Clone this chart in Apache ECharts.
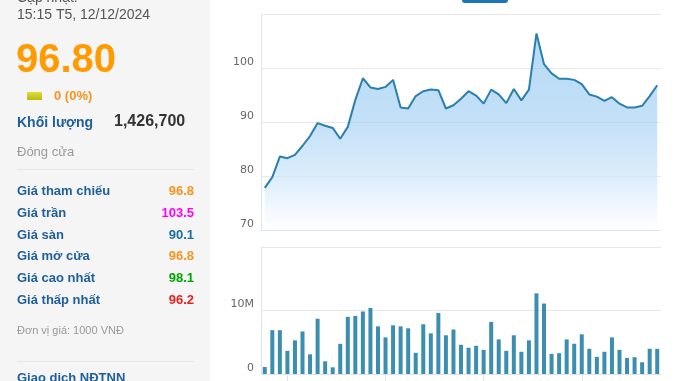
<!DOCTYPE html>
<html>
<head>
<meta charset="utf-8">
<script src="https://cdn.jsdelivr.net/npm/echarts@6/dist/echarts.min.js"></script>
<style>
html,body{margin:0;padding:0;background:#fff;}
#c{width:678px;height:381px;}
</style>
</head>
<body>
<div id="c"></div>
<script>
// ---- data ----
var days = [];
for (var i = 0; i < 53; i++) days.push('D' + (i + 1));
var prices = [77.8, 79.8, 83.6, 83.3, 83.9, 85.6, 87.4, 89.8, 89.3, 88.9,
  86.9, 89.1, 94.1, 98.1, 96.4, 96.1, 96.5, 97.8, 92.7, 92.5,
  94.8, 95.7, 96.0, 95.9, 92.5, 93.1, 94.3, 95.7, 94.9, 93.4,
  96.0, 95.1, 93.5, 96.1, 94.0, 96.0, 106.4, 100.7, 99.0, 98.0,
  98.0, 97.8, 97.0, 95.1, 94.7, 93.9, 94.6, 93.4, 92.7, 92.7,
  93.0, 94.8, 96.8];
var volumesM = [1.1, 6.9, 6.9, 3.65, 5.3, 6.7, 3.1, 8.7, 2.0, 1.05,
  4.75, 9.0, 9.15, 9.85, 10.4, 7.5, 5.77, 7.67, 7.5, 7.2,
  3.33, 7.83, 6.4, 9.6, 6.1, 7.0, 4.6, 4.13, 4.44, 3.8,
  8.2, 5.45, 3.65, 6.1, 3.5, 5.3, 12.7, 11.1, 3.17, 3.28,
  5.45, 4.76, 6.25, 3.97, 2.7, 3.5, 5.77, 3.8, 2.54, 2.65,
  1.85, 3.97, 3.97];
var priceTicks = [70, 110, 10];
var volTicks = [0, 20, 10];
var infoRows = [
  ['Giá tham chiếu', '96.8', '#f7941d'],
  ['Giá trần', '103.5', '#ff00ff'],
  ['Giá sàn', '90.1', '#1b6fa3'],
  ['Giá mở cửa', '96.8', '#f7941d'],
  ['Giá cao nhất', '98.1', '#00a500'],
  ['Giá thấp nhất', '96.2', '#ee1c1c']
];

var F = '"Liberation Sans", Arial, sans-serif';
var BLUE = '#1d5e9b';
function txt(t, x, y, font, fill, align) {
  return { type: 'text', silent: true, z: 10,
    style: { text: t, x: x, y: y, font: font, fill: fill,
      align: align || 'left', textAlign: align || 'left',
      verticalAlign: 'middle', textVerticalAlign: 'middle' } };
}
var els = [
  { type: 'rect', z: 1, silent: true, shape: { x: 0, y: 0, width: 210, height: 381 }, style: { fill: '#f5f5f6' } },
  txt('Cập nhật:', 17, -2, '14px ' + F, '#555'),
  txt('15:15 T5, 12/12/2024', 17, 15, '14px ' + F, '#555'),
  txt('96.80', 16, 61, 'bold 40px ' + F, '#ff9a00'),
  { type: 'rect', z: 10, silent: true, shape: { x: 27, y: 92, width: 15, height: 8 },
    style: { fill: { type: 'linear', x: 0, y: 0, x2: 0, y2: 1, colorStops: [{ offset: 0, color: '#dede3a' }, { offset: 1, color: '#b9b90f' }] } } },
  txt('0 (0%)', 54, 96, 'bold 13px ' + F, '#f7941d'),
  txt('Khối lượng', 17, 123, 'bold 14px ' + F, BLUE),
  txt('1,426,700', 114, 122, 'bold 16px ' + F, '#333'),
  txt('Đóng cửa', 17, 152, '13px ' + F, '#999'),
  { type: 'rect', z: 10, silent: true, shape: { x: 17, y: 169, width: 177, height: 1 }, style: { fill: '#e6e6e6' } },
  txt('Đơn vị giá: 1000 VNĐ', 17, 331, '11px ' + F, '#999'),
  { type: 'rect', z: 10, silent: true, shape: { x: 17, y: 361, width: 177, height: 1 }, style: { fill: '#e6e6e6' } },
  txt('Giao dịch NĐTNN', 17, 378, 'bold 13px ' + F, BLUE),
  { type: 'rect', z: 10, silent: true, shape: { x: 462, y: -6, width: 46, height: 9, r: 3 }, style: { fill: '#1c76b5' } }
];
infoRows.forEach(function (r, i) {
  var y = 191.5 + i * 21.8;
  els.push(txt(r[0], 17, y, 'bold 13px ' + F, BLUE));
  els.push(txt(r[1], 194, y, 'bold 13px ' + F, r[2], 'right'));
});

var AX = '#dde4ec', SPL = '#e8e8e8';
var LBL = { color: '#666', fontFamily: 'DejaVu Sans', fontSize: 11, margin: 7, verticalAlign: 'bottom', lineHeight: 12 };
var chart = echarts.init(document.getElementById('c'), null, { renderer: 'canvas' });
chart.setOption({
  animation: false,
  backgroundColor: '#fff',
  graphic: { elements: els },
  grid: [
    { left: 261, right: 17, top: 14, height: 216 },
    { left: 261, right: 17, top: 247, height: 127 }
  ],
  xAxis: [
    { type: 'category', gridIndex: 0, data: days, boundaryGap: true,
      axisLine: { lineStyle: { color: AX } }, axisTick: { show: false }, axisLabel: { show: false } },
    { type: 'category', gridIndex: 1, data: days, boundaryGap: true,
      axisLine: { lineStyle: { color: AX } },
      axisTick: { show: true, alignWithLabel: true, length: 8, lineStyle: { color: AX },
        interval: function (idx) { return idx % 13 === 3; } },
      axisLabel: { show: false } }
  ],
  yAxis: [
    { type: 'value', gridIndex: 0, min: priceTicks[0], max: priceTicks[1], interval: priceTicks[2],
      axisLine: { show: true, lineStyle: { color: AX } }, axisTick: { show: false },
      splitLine: { lineStyle: { color: SPL } },
      axisLabel: Object.assign({ showMaxLabel: false }, LBL) },
    { type: 'value', gridIndex: 1, min: volTicks[0], max: volTicks[1], interval: volTicks[2],
      axisLine: { show: true, lineStyle: { color: AX } }, axisTick: { show: false },
      splitLine: { lineStyle: { color: SPL } },
      axisLabel: Object.assign({ showMaxLabel: false, formatter: function (v) { return v === 0 ? '0' : v + 'M'; } }, LBL) }
  ],
  series: [
    { type: 'line', xAxisIndex: 0, yAxisIndex: 0, data: prices, showSymbol: false, symbol: 'none',
      lineStyle: { color: '#2a7fad', width: 2 },
      areaStyle: { origin: 'start', color: { type: 'linear', x: 0, y: 0, x2: 0, y2: 1, colorStops: [
        { offset: 0, color: 'rgba(133,192,239,0.85)' },
        { offset: 0.44, color: 'rgba(154,203,242,0.85)' },
        { offset: 0.73, color: 'rgba(196,224,248,0.85)' },
        { offset: 1, color: 'rgba(255,255,255,0.85)' }] } } },
    { type: 'bar', xAxisIndex: 1, yAxisIndex: 1, data: volumesM, barWidth: 4,
      itemStyle: { color: '#3b8eb0' } }
  ]
});
</script>
</body>
</html>
